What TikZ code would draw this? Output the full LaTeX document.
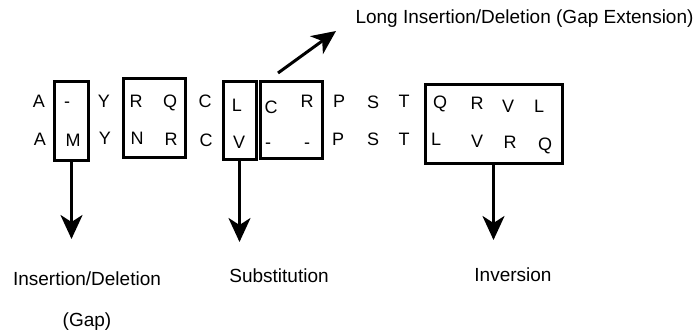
\documentclass[tikz,border=0pt]{standalone}
\usepackage{fontspec}
\setmainfont{Liberation Sans}
\usetikzlibrary{arrows.meta}
\begin{document}
\begin{tikzpicture}[x=1pt,y=-1pt,
  letter/.style={font=\fontsize{18}{18}\selectfont, inner sep=0pt, text height=12.5pt, text depth=0pt, anchor=center},
  lbl/.style={font=\fontsize{19}{19}\selectfont, inner sep=0pt, text height=13.5pt, text depth=0pt, anchor=center},
  box/.style={draw=black, line width=3pt, inner sep=0pt},
  arr/.style={line width=3pt, -{Stealth[length=24pt,width=22pt,inset=7pt]}}
]
\useasboundingbox (0,0) rectangle (696,330);
% boxes
\node[box, minimum width=34pt, minimum height=79pt] (bx1) at (71.5,120.5) {};
\node[box, minimum width=62pt, minimum height=79pt] (bx2) at (154,117.5) {};
\node[box, minimum width=33pt, minimum height=78pt] (bx3) at (239.5,120) {};
\node[box, minimum width=62pt, minimum height=77pt] (bx4) at (291.5,119.5) {};
\node[box, minimum width=137pt, minimum height=79pt] (bx5) at (493.5,123.5) {};
% row 1
\node[letter] (t1) at (39,101) {A};
\node[letter] (t2) at (67,101) {-};
\node[letter] (t3) at (104,101) {Y};
\node[letter] (t4) at (136,101.5) {R};
\node[letter] (t5) at (170,101) {Q};
\node[letter] (t6) at (205,101.5) {C};
\node[letter] (t7) at (237,105) {L};
\node[letter] (t8) at (271,107) {C};
\node[letter] (t9) at (307,101.5) {R};
\node[letter] (t10) at (339,101.5) {P};
\node[letter] (t11) at (373,102) {S};
\node[letter] (t12) at (404,101) {T};
\node[letter] (t13) at (440,102) {Q};
\node[letter] (t14) at (477,103) {R};
\node[letter] (t15) at (508,106.5) {V};
\node[letter] (t16) at (539,106) {L};
% row 2
\node[letter] (u1) at (40,139) {A};
\node[letter] (u2) at (73,140.5) {M};
\node[letter] (u3) at (105,138.5) {Y};
\node[letter] (u4) at (137,138.5) {N};
\node[letter] (u5) at (171,139.5) {R};
\node[letter] (u6) at (206,140) {C};
\node[letter] (u7) at (239,142.5) {V};
\node[letter] (u8) at (268,142) {-};
\node[letter] (u9) at (307,142) {-};
\node[letter] (u10) at (338,139) {P};
\node[letter] (u11) at (373,139) {S};
\node[letter] (u12) at (404,139) {T};
\node[letter] (u13) at (436,139) {L};
\node[letter] (u14) at (477,141) {V};
\node[letter] (u15) at (510,142.5) {R};
\node[letter] (u16) at (545,144) {Q};
% labels
\node[lbl] (top) at (524.5,17) {Long Insertion/Deletion (Gap Extension)};
\node[lbl] (lab1) at (87,278.5) {Insertion/Deletion};
\node[lbl] (lab1b) at (87,320) {(Gap)};
\node[lbl] (lab2) at (279,275.5) {Substitution};
\node[lbl] (lab3) at (513,275) {Inversion};
% arrows
\coordinate (e1) at (71.5,239);
\coordinate (e3) at (239.5,242);
\coordinate (e5) at (493.5,240);
\coordinate (d0) at (278,73);
\coordinate (d1) at (336,31);
\draw[arr] (bx1.south) -- (e1);
\draw[arr] (bx3.south) -- (e3);
\draw[arr] (bx5.south) -- (e5);
\draw[arr] (d0) -- (d1);
\end{tikzpicture}
\end{document}
